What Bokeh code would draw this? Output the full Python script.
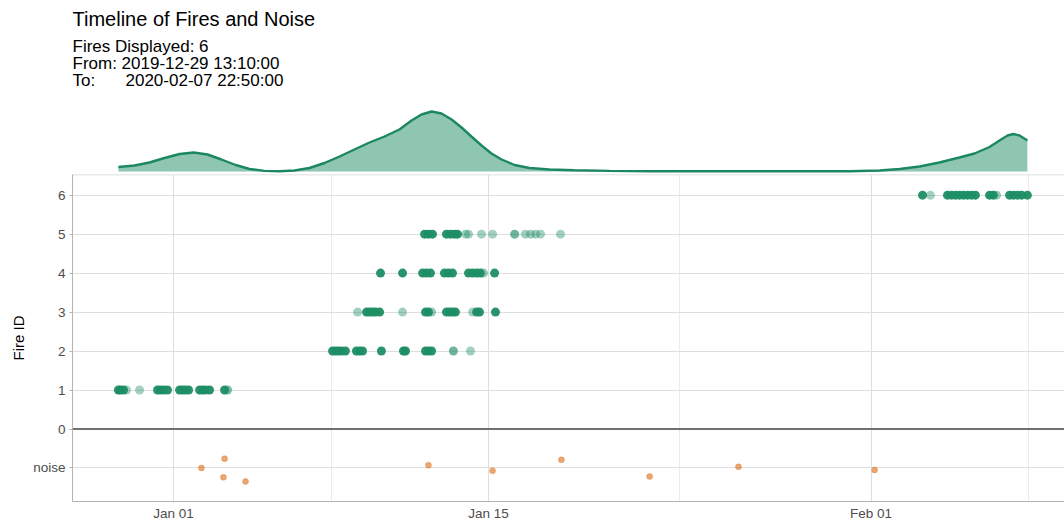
from bokeh.plotting import figure
from bokeh.layouts import column
from bokeh.models import Range1d, FixedTicker, Span, Label, ColumnDataSource
from bokeh.embed import file_html
from bokeh.resources import INLINE

# ---------------- data (days since 2020-01-01 00:00) ----------------
title_text = "Timeline of Fires and Noise"
subtitle_lines = ["Fires Displayed: 6", "From: 2019-12-29 13:10:00"]
subtitle_to_key = "To:"
subtitle_to_value = "2020-02-07 22:50:00"

fire1_day = [-2.45, -2.36, -2.22, -2.09, -1.51, -0.71, -0.58, -0.44, -0.27, 0.27, 0.40, 0.53, 0.67,
             1.16, 1.29, 1.42, 1.60, 2.27, 2.40]
fire1_prob = [1, 1, 1, 0.1, 0.1, 1, 1, 1, 1, 1, 1, 1, 1, 1, 1, 1, 1, 1, 0.4]

fire2_day = [7.07, 7.20, 7.33, 7.47, 7.64, 8.13, 8.27, 8.40, 9.24, 10.22, 10.31, 11.20, 11.33, 11.47,
             12.44, 13.20]
fire2_prob = [1, 1, 1, 1, 1, 1, 1, 1, 1, 1, 1, 1, 1, 1, 0.5, 0.1]

fire3_day = [8.18, 8.58, 8.71, 8.84, 8.98, 9.16, 10.18, 11.20, 11.33, 11.47, 12.13, 12.27, 12.40, 12.53,
             13.29, 13.47, 13.60, 14.31]
fire3_prob = [0.1, 1, 1, 1, 1, 1, 0.1, 1, 1, 0.2, 1, 1, 1, 1, 0.1, 1, 1, 1]

fire4_day = [9.20, 10.18, 11.07, 11.24, 11.42, 12.04, 12.22, 12.40, 13.11, 13.29, 13.47, 13.64, 13.78, 14.27]
fire4_prob = [1, 1, 1, 1, 1, 1, 1, 1, 1, 1, 1, 1, 0.2, 1]

fire5_day = [11.16, 11.33, 11.51, 12.13, 12.31, 12.49, 12.62, 12.98, 13.11, 13.69, 14.18, 15.16, 15.64,
             15.87, 16.09, 16.31, 17.20]
fire5_prob = [1, 1, 1, 1, 1, 1, 1, 0.1, 0.1, 0.1, 0.1, 0.5, 0.1, 0.1, 0.1, 0.1, 0.1]

fire6_day = [33.29, 33.64, 34.40, 34.58, 34.76, 34.93, 35.11, 35.29, 35.47, 35.64, 36.27, 36.44, 36.58,
             37.16, 37.33, 37.51, 37.69, 37.95]
fire6_prob = [1, 0.1, 1, 1, 1, 1, 1, 1, 1, 1, 1, 1, 0.2, 1, 1, 1, 1, 1]

noise_day = [1.24, 2.27, 2.22, 3.20, 11.33, 14.18, 17.24, 21.16, 25.11, 31.16]
noise_y = [-1.0, -0.76, -1.24, -1.35, -0.93, -1.07, -0.79, -1.22, -0.97, -1.05]

density_day = [-2.45, -1.73, -1.07, -0.40, 0.27, 0.89, 1.51, 2.13, 2.76, 3.38, 4.04, 4.71, 5.38, 6.04,
               6.71, 7.38, 8.04, 8.71, 9.38, 10.04, 10.58, 11.02, 11.47, 11.91, 12.36, 12.80, 13.24,
               13.69, 14.13, 14.58, 15.16, 15.82, 16.71, 17.82, 19.38, 21.16, 23.38, 25.60, 27.82,
               30.04, 31.38, 32.27, 33.16, 34.04, 34.93, 35.60, 36.27, 36.71, 37.07, 37.33, 37.60, 37.95]
density_val = [4.5, 6, 9, 13.5, 17.5, 19, 17, 12, 6.5, 2.5, 0.6, 0.3, 1, 3.5,
               8.5, 15, 22, 29, 35, 42, 51, 57, 60, 58, 52, 44, 35,
               26, 18, 12, 6.5, 3.5, 2, 1.2, 0.6, 0.3, 0.2, 0.2, 0.2,
               0.3, 1, 2.5, 5, 9, 14, 18, 24.5, 31, 36, 37.5, 36, 31]

x_ticks = [0, 14, 31]
x_tick_labels = ["Jan 01", "Jan 15", "Feb 01"]
x_minor_ticks = [7, 22.5, 38]
y_ticks = [-1, 0, 1, 2, 3, 4, 5, 6]
y_tick_labels = ["noise", "0", "1", "2", "3", "4", "5", "6"]
zero_line = 0
y_limits = (-1.86, 6.53)

# ---------------- styling ----------------
FONT = "Liberation Sans"
FIRE_COLOR = "#1e8e64"
NOISE_COLOR = "#d95f02"
W = 1064
LEFT = 72
TOP_H = 173
MAIN_H = 350

x_range = Range1d(-4.49, 39.60)

# ---------------- top: title + density ----------------
top = figure(width=W, height=TOP_H, x_range=x_range, y_range=Range1d(-2, TOP_H - 2),
             x_axis_location=None, y_axis_location=None, toolbar_location=None,
             output_backend="svg", min_border_left=LEFT, min_border_right=0,
             min_border_top=0, min_border_bottom=0)
top.grid.visible = False
top.outline_line_color = None
top.background_fill_color = "white"
top.border_fill_color = "white"

dsrc = ColumnDataSource(dict(x=density_day, y=density_val))
top.varea(x="x", y1=0, y2="y", source=dsrc, fill_color=FIRE_COLOR, fill_alpha=0.5)
top.line(x="x", y="y", source=dsrc, line_color="#1c8860", line_width=2.4)

top.add_layout(Label(x=0, y=TOP_H - 18, x_units="screen", y_units="screen", text=title_text,
                     text_font=FONT, text_font_size="20px", text_color="black",
                     text_baseline="alphabetic"))
sub_y = [TOP_H - 46, TOP_H - 63, TOP_H - 80]
for line, yy in zip(subtitle_lines, sub_y):
    top.add_layout(Label(x=0, y=yy, x_units="screen", y_units="screen", text=line,
                         text_font=FONT, text_font_size="17px", text_color="black",
                         text_baseline="alphabetic"))
top.add_layout(Label(x=0, y=sub_y[2], x_units="screen", y_units="screen", text=subtitle_to_key,
                     text_font=FONT, text_font_size="17px", text_color="black",
                     text_baseline="alphabetic"))
top.add_layout(Label(x=53, y=sub_y[2], x_units="screen", y_units="screen", text=subtitle_to_value,
                     text_font=FONT, text_font_size="17px", text_color="black",
                     text_baseline="alphabetic"))

# ---------------- main timeline ----------------
p = figure(width=W, height=MAIN_H, x_range=x_range, y_range=Range1d(*y_limits),
           toolbar_location=None, output_backend="svg",
           min_border_left=LEFT, min_border_right=0, min_border_top=1, min_border_bottom=0)
p.background_fill_color = "white"
p.border_fill_color = "white"
p.outline_line_color = None

p.xaxis.ticker = FixedTicker(ticks=x_ticks, minor_ticks=x_minor_ticks)
p.xaxis.major_label_overrides = {t: l for t, l in zip(x_ticks, x_tick_labels)}
p.yaxis.ticker = FixedTicker(ticks=y_ticks, minor_ticks=[])
p.yaxis.major_label_overrides = {t: l for t, l in zip(y_ticks, y_tick_labels)}

for ax in (p.xaxis, p.yaxis):
    ax.axis_line_color = "#b3b3b3"
    ax.major_tick_line_color = "#b3b3b3"
    ax.major_tick_in = 0
    ax.minor_tick_line_color = None
    ax.major_label_text_font = FONT
    ax.major_label_text_font_size = "13.5px"
    ax.major_label_text_color = "#4d4d4d"
p.yaxis.major_tick_out = 3
p.xaxis.major_tick_out = 0
p.xaxis.major_label_standoff = 0
p.yaxis.major_label_standoff = 4
p.yaxis.axis_label = "Fire ID"
p.yaxis.axis_label_text_font = FONT
p.yaxis.axis_label_text_font_size = "15px"
p.yaxis.axis_label_text_font_style = "normal"
p.yaxis.axis_label_text_color = "black"
p.yaxis.axis_label_standoff = 3

p.xgrid.grid_line_color = "#dedede"
p.xgrid.minor_grid_line_color = "#ebebeb"
p.xgrid.minor_grid_line_width = 1
p.ygrid.grid_line_color = "#dedede"

# panel top border
p.add_layout(Span(location=y_limits[1], dimension="width", line_color="#d6d6d6",
                  line_width=1.5, level="underlay"))
p.add_layout(Span(location=zero_line, dimension="width", line_color="#707070",
                  line_width=2, level="underlay"))

fires = [(fire1_day, fire1_prob, 1), (fire2_day, fire2_prob, 2), (fire3_day, fire3_prob, 3),
         (fire4_day, fire4_prob, 4), (fire5_day, fire5_prob, 5), (fire6_day, fire6_prob, 6)]
for days, probs, fid in fires:
    src = ColumnDataSource(dict(x=days, y=[fid] * len(days),
                                a=[0.35 + 0.6 * pr for pr in probs]))
    p.scatter(x="x", y="y", source=src, size=9, fill_color=FIRE_COLOR, line_color=None,
              fill_alpha="a")

nsrc = ColumnDataSource(dict(x=noise_day, y=noise_y))
p.scatter(x="x", y="y", source=nsrc, size=6, fill_color=NOISE_COLOR, fill_alpha=0.55,
          line_color=NOISE_COLOR, line_alpha=0.35, line_width=0.8)

layout = column(top, p, spacing=0)
open("out.html", "w").write(file_html(layout, INLINE))
